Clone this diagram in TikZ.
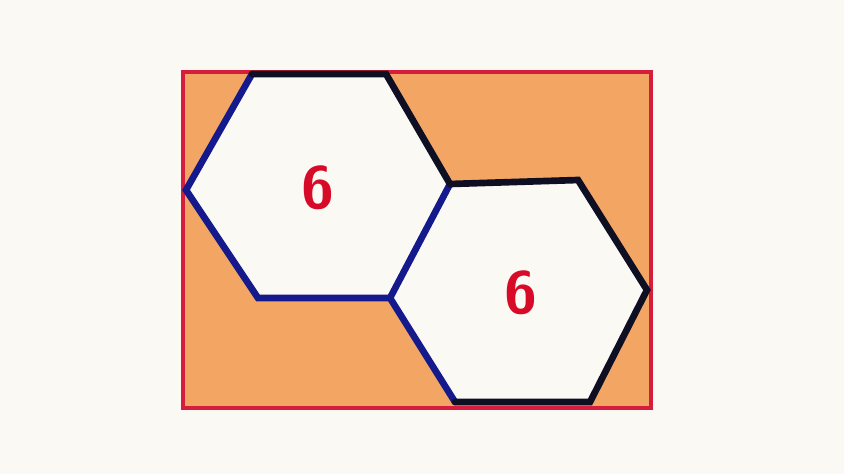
\documentclass[tikz,border=0pt]{standalone}
\usetikzlibrary{calc}
\definecolor{paper}{RGB}{251,249,244}
\definecolor{boxred}{RGB}{214,30,60}
\definecolor{boxfill}{RGB}{243,166,100}
\definecolor{hexblue}{RGB}{20,25,140}
\definecolor{hexblack}{RGB}{15,15,35}
\definecolor{numred}{RGB}{215,10,40}

\begin{document}
\begin{tikzpicture}[x=0.02cm, y=-0.02cm,
  frame/.style={draw=boxred, line width=2.6pt, fill=boxfill},
  hexfill/.style={fill=paper},
  edgeA/.style={draw=hexblack, line width=3.8pt, line cap=round},
  edgeB/.style={draw=hexblue, line width=3.8pt, line cap=round},
  num/.style={text=numred, font=\fontsize{34}{34}\sffamily\bfseries},
]
  \fill[paper] (0,0) rectangle (844,474);
  \useasboundingbox (0,0) rectangle (844,474);

  % shaded rectangle
  \draw[frame] (183,72) rectangle (651,408);

  % hexagon corners
  \coordinate (a1) at (186,190);
  \coordinate (a2) at (252,74);
  \coordinate (a3) at (386,74);
  \coordinate (a4) at (450,184);
  \coordinate (a5) at (388,298);
  \coordinate (a6) at (258,298);

  \coordinate (b2) at (578,180);
  \coordinate (b3) at (647,290);
  \coordinate (b4) at (590,402);
  \coordinate (b5) at (455,402);
  \coordinate (b6) at (390,298);

  \fill[hexfill] (a1) -- (a2) -- (a3) -- (a4) -- (a5) -- (a6) -- cycle;
  \fill[hexfill] (a4) -- (b2) -- (b3) -- (b4) -- (b5) -- (b6) -- cycle;

  % edges
  \draw[edgeB] (a4) -- (b6) -- (a6) -- (a1) -- (a2);
  \draw[edgeB] (b6) -- (b5);
  \draw[edgeA] (a2) -- (a3) -- (a4) -- (b2) -- (b3) -- (b4) -- (b5);

  \node[num] (n1) at (318,188) {6};
  \node[num] (n2) at (521,293) {6};
\end{tikzpicture}
\end{document}
